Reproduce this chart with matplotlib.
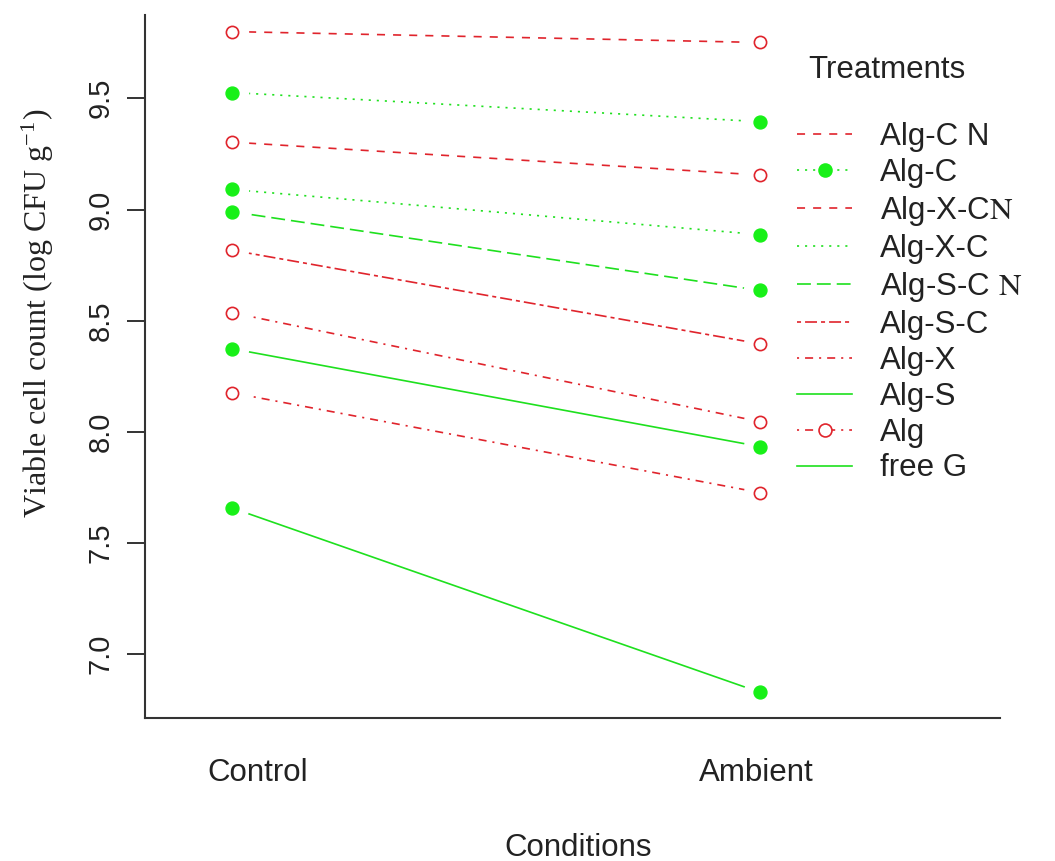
import matplotlib
matplotlib.use("Agg")
import matplotlib.pyplot as plt
import matplotlib.transforms as mtransforms
from matplotlib.lines import Line2D

plt.rcParams['font.family'] = ['Liberation Sans', 'DejaVu Sans']
plt.rcParams['mathtext.fontset'] = 'stix'
plt.rcParams['lines.scale_dashes'] = False

# ---- data ----
conditions = ["Control", "Ambient"]
treatments = ["Alg-C N", "Alg-C", "Alg-X-C N", "Alg-X-C", "Alg-S-C N",
              "Alg-S-C", "Alg-X", "Alg-S", "Alg", "free G"]
legend_labels = ["Alg-C N", "Alg-C", r"Alg-X-C$\mathrm{N}$", "Alg-X-C",
                 r"Alg-S-C $\mathrm{N}$", "Alg-S-C", "Alg-X", "Alg-S", "Alg", "free G"]
control = [9.80, 9.526, 9.303, 9.09, 8.99, 8.817, 8.536, 8.374, 8.176, 7.658]
ambient = [9.751, 9.395, 9.155, 8.887, 8.636, 8.396, 8.046, 7.934, 7.727, 6.829]

# ---- styles ----
RED = "#E0242C"
GREEN = "#1EE01E"
MGREEN = "#18F018"
styles = [
    dict(color=RED, dashes=(5.8, 5.8), filled=False),
    dict(color=GREEN, dashes=(1.5, 4.3), filled=True),
    dict(color=RED, dashes=(5.8, 5.8), filled=False),
    dict(color=GREEN, dashes=(1.5, 4.3), filled=True),
    dict(color=GREEN, dashes=(10, 4.3), filled=True),
    dict(color=RED, dashes=(2.9, 2.9, 8.6, 2.9), filled=False),
    dict(color=RED, dashes=(1.5, 4.3, 5.8, 4.3), filled=False),
    dict(color=GREEN, dashes=None, filled=True),
    dict(color=RED, dashes=(1.5, 4.3, 5.8, 4.3), filled=False),
    dict(color=GREEN, dashes=None, filled=True),
]
legend_marker = [None, 'o', None, None, None, None, None, None, 'o', None]

W, H = 1055, 861
FS = 22.5
fig = plt.figure(figsize=(W / 100, H / 100), dpi=100)
L, R, T, B = 145, 1000, 15, 718
ax = fig.add_axes([L / W, 1 - B / H, (R - L) / W, (B - T) / H])

xpos = [1, 2]
for i, name in enumerate(treatments):
    st = styles[i]
    ys = [control[i], ambient[i]]
    ln, = ax.plot(xpos, ys, color=st['color'], lw=1.2, zorder=1)
    if st['dashes'] is not None:
        ln.set_dashes(st['dashes'])
    # gap around points (R type="b")
    ax.plot(xpos, ys, ls='none', marker='o', ms=24, mfc='white', mec='none', zorder=2)
    if st['filled']:
        ax.plot(xpos, ys, ls='none', marker='o', ms=9.3, mfc=MGREEN, mec=MGREEN, zorder=3)
    else:
        ax.plot(xpos, ys, ls='none', marker='o', ms=8.8, mfc='white', mec=RED, mew=1.2, zorder=3)

ax.set_xlim(1 - 87 / 528, 2 + 240 / 528)
ax.set_ylim(9 - 508.5 / 222.4, 9 + 194.5 / 222.4)

for s in ['top', 'right']:
    ax.spines[s].set_visible(False)
for s in ['left', 'bottom']:
    ax.spines[s].set_color('#333333')
    ax.spines[s].set_linewidth(1.5)

ax.set_yticks([7.0, 7.5, 8.0, 8.5, 9.0, 9.5])
ax.set_yticklabels(["7.0", "7.5", "8.0", "8.5", "9.0", "9.5"], rotation=90, va='center')
ax.tick_params(axis='y', length=13, width=1.4, color='#333333', pad=9, labelsize=21,
               labelcolor='#222222')
ax.set_xticks(xpos)
ax.set_xticklabels(conditions)
ax.tick_params(axis='x', length=0, pad=29, labelsize=FS, labelcolor='#222222')
offs = [26, -4]
for lab, dx in zip(ax.get_xticklabels(), offs):
    lab.set_transform(lab.get_transform() + mtransforms.ScaledTranslation(dx / 100, 0, fig.dpi_scale_trans))

fig.text(578 / W, 1 - 848 / H, "Conditions", ha='center', va='center', fontsize=FS, color='#222222')
fig.text(38 / W, 1 - 313 / H, r"Viable cell count (log CFU g$^{\mathregular{-1}}$)",
         rotation=90, ha='center', va='center', fontsize=23, color='#222222',
         family=['Liberation Serif', 'DejaVu Serif'])

# legend
handles = []
for i in range(len(treatments)):
    st = styles[i]
    m = legend_marker[i]
    h = Line2D([], [], color=st['color'], lw=1.2,
               marker=m if m else None, ms=9.3,
               mfc=(MGREEN if st['filled'] else 'white'),
               mec=(MGREEN if st['filled'] else RED), mew=1.2)
    if st['dashes'] is not None:
        h.set_dashes(st['dashes'])
    handles.append(h)

leg = fig.legend(handles, legend_labels, loc='upper left',
                 bbox_to_anchor=(797 / W, 1 - 122 / H), frameon=False,
                 fontsize=FS, handlelength=1.76, handletextpad=0.9,
                 labelspacing=0.19, borderpad=0, borderaxespad=0)
for t in leg.get_texts():
    t.set_color('#222222')
fig.text(887 / W, 1 - 70 / H, "Treatments", ha='center', va='center', fontsize=FS, color='#222222')

fig.savefig("out.png", dpi=100)
